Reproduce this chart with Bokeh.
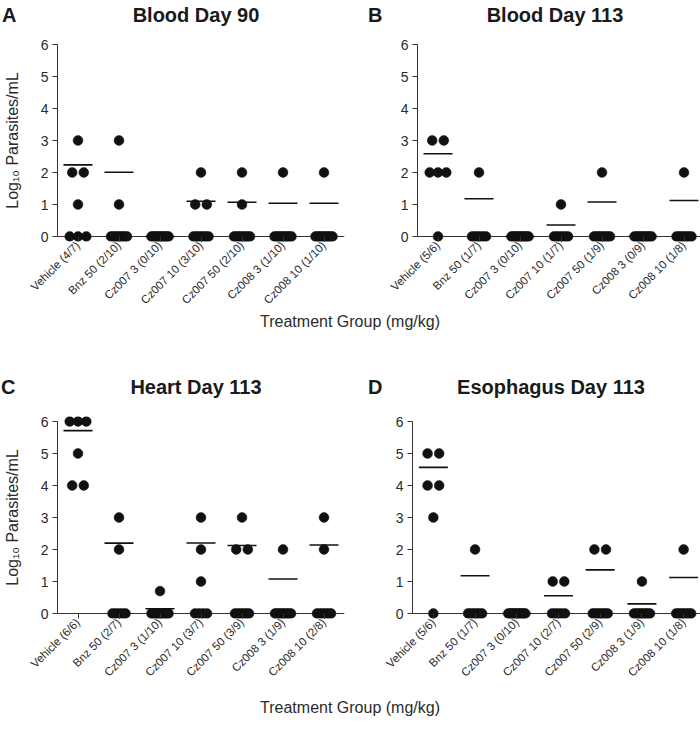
import math
from collections import Counter
import numpy as np
from bokeh.plotting import figure
from bokeh.models import FixedTicker, Div, Span
from bokeh.layouts import column, row
from bokeh.embed import file_html
from bokeh.resources import INLINE

# ---------------- data ----------------
groups = ["Vehicle", "Bnz 50", "Cz007 3", "Cz007 10", "Cz007 50", "Cz008 3", "Cz008 10"]
y_ticks = [0, 1, 2, 3, 4, 5, 6]

blood90_counts = ["(4/7)", "(2/10)", "(0/10)", "(3/10)", "(2/10)", "(1/10)", "(1/10)"]
blood90_vehicle = [3, 2, 2, 1, 0, 0, 0]
blood90_bnz50 = [3, 1, 0, 0, 0, 0, 0, 0, 0, 0]
blood90_cz007_3 = [0, 0, 0, 0, 0, 0, 0, 0, 0, 0]
blood90_cz007_10 = [2, 1, 1, 0, 0, 0, 0, 0, 0, 0]
blood90_cz007_50 = [2, 1, 0, 0, 0, 0, 0, 0, 0, 0]
blood90_cz008_3 = [2, 0, 0, 0, 0, 0, 0, 0, 0, 0]
blood90_cz008_10 = [2, 0, 0, 0, 0, 0, 0, 0, 0, 0]

blood113_counts = ["(5/6)", "(1/7)", "(0/10)", "(1/7)", "(1/9)", "(0/9)", "(1/8)"]
blood113_vehicle = [3, 3, 2, 2, 2, 0]
blood113_bnz50 = [2, 0, 0, 0, 0, 0, 0]
blood113_cz007_3 = [0, 0, 0, 0, 0, 0, 0, 0, 0, 0]
blood113_cz007_10 = [1, 0, 0, 0, 0, 0, 0]
blood113_cz007_50 = [2, 0, 0, 0, 0, 0, 0, 0, 0]
blood113_cz008_3 = [0, 0, 0, 0, 0, 0, 0, 0, 0]
blood113_cz008_10 = [2, 0, 0, 0, 0, 0, 0, 0]

heart113_counts = ["(6/6)", "(2/7)", "(1/10)", "(3/7)", "(3/9)", "(1/9)", "(2/8)"]
heart113_vehicle = [6, 6, 6, 5, 4, 4]
heart113_bnz50 = [3, 2, 0, 0, 0, 0, 0]
heart113_cz007_3 = [0.7, 0, 0, 0, 0, 0, 0, 0, 0, 0]
heart113_cz007_10 = [3, 2, 1, 0, 0, 0, 0]
heart113_cz007_50 = [3, 2, 2, 0, 0, 0, 0, 0, 0]
heart113_cz008_3 = [2, 0, 0, 0, 0, 0, 0, 0, 0]
heart113_cz008_10 = [3, 2, 0, 0, 0, 0, 0, 0]

eso113_counts = ["(5/6)", "(1/7)", "(0/10)", "(2/7)", "(2/9)", "(1/9)", "(1/8)"]
eso113_vehicle = [5, 5, 4, 4, 3, 0]
eso113_bnz50 = [2, 0, 0, 0, 0, 0, 0]
eso113_cz007_3 = [0, 0, 0, 0, 0, 0, 0, 0, 0, 0]
eso113_cz007_10 = [1, 1, 0, 0, 0, 0, 0]
eso113_cz007_50 = [2, 2, 0, 0, 0, 0, 0, 0, 0]
eso113_cz008_3 = [1, 0, 0, 0, 0, 0, 0, 0, 0]
eso113_cz008_10 = [2, 0, 0, 0, 0, 0, 0, 0]

blood90 = [blood90_vehicle, blood90_bnz50, blood90_cz007_3, blood90_cz007_10,
           blood90_cz007_50, blood90_cz008_3, blood90_cz008_10]
blood113 = [blood113_vehicle, blood113_bnz50, blood113_cz007_3, blood113_cz007_10,
            blood113_cz007_50, blood113_cz008_3, blood113_cz008_10]
heart113 = [heart113_vehicle, heart113_bnz50, heart113_cz007_3, heart113_cz007_10,
            heart113_cz007_50, heart113_cz008_3, heart113_cz008_10]
eso113 = [eso113_vehicle, eso113_bnz50, eso113_cz007_3, eso113_cz007_10,
          eso113_cz007_50, eso113_cz008_3, eso113_cz008_10]

# ---------------- styling ----------------
FONT = "Liberation Sans"
TXT = "#2b2b2b"
PXY = 32.0       # pixels per log unit
PAD = 5.0        # pixels of frame beyond 0 and 6
FRAME_H = int(6 * PXY + 2 * PAD)


def spread_px(n):
    if n <= 1:
        return 0.0
    if n == 2:
        return 11.6
    if n == 3:
        return 16.6
    return min(8.0 + n, 17.0)


def make_panel(counts, data, frame_w, border_left, border_right, border_top, border_bottom, ylabel):
    pxc = frame_w / 7.0
    p = figure(frame_width=frame_w, frame_height=FRAME_H,
               x_range=(0, 7), y_range=(-PAD / PXY, 6 + PAD / PXY),
               output_backend="svg", toolbar_location=None,
               min_border_left=border_left, min_border_right=border_right,
               min_border_top=border_top, min_border_bottom=border_bottom,
               background_fill_color=None, border_fill_color="white")
    p.outline_line_color = None
    p.grid.visible = False

    xs, ys = [], []
    mx0, mx1, my = [], [], []
    for i, vals in enumerate(data):
        cnt = Counter(vals)
        seen = {}
        for v in vals:
            n = cnt[v]
            k = seen.get(v, 0)
            seen[v] = k + 1
            s = spread_px(n)
            off = 0.0 if n == 1 else -s / 2 + s * k / (n - 1)
            xs.append(i + 0.5 + off / pxc)
            ys.append(v)
        m = math.log10(np.mean(10.0 ** np.array(vals, dtype=float)))
        mx0.append(i + 0.5 - 14.5 / pxc)
        mx1.append(i + 0.5 + 14.5 / pxc)
        my.append(m)

    # x-axis baseline at y = 0
    p.add_layout(Span(location=0, dimension="width", line_color="#333333",
                      line_width=1, level="underlay"))
    p.segment(x0=mx0, y0=my, x1=mx1, y1=my, line_color="#111111", line_width=1.6)
    p.scatter(x=xs, y=ys, size=9.8, marker="circle", fill_color="#111111",
              line_color="#111111", line_width=0.5)

    xa = p.xaxis[0]
    xa.ticker = FixedTicker(ticks=[i + 0.5 for i in range(7)])
    xa.major_label_overrides = {i + 0.5: f"{g} {c}" for i, (g, c) in enumerate(zip(groups, counts))}
    xa.major_label_orientation = math.pi / 4
    xa.major_label_text_font = FONT
    xa.major_label_text_font_size = "11.5px"
    xa.major_label_text_color = TXT
    xa.major_label_standoff = 2
    xa.major_tick_in = int(PAD)
    xa.major_tick_out = 0
    xa.minor_tick_line_color = None
    xa.axis_line_color = None
    xa.major_tick_line_color = "#333333"

    ya = p.yaxis[0]
    ya.bounds = (0, 6)
    ya.ticker = FixedTicker(ticks=y_ticks)
    ya.major_label_text_font = FONT
    ya.major_label_text_font_size = "14px"
    ya.major_label_text_color = TXT
    ya.major_label_standoff = 4
    ya.major_tick_in = 0
    ya.major_tick_out = 5
    ya.minor_tick_line_color = None
    ya.axis_line_color = "#333333"
    ya.major_tick_line_color = "#333333"
    if ylabel:
        ya.axis_label = "Log\u2081\u2080 Parasites/mL"
        ya.axis_label_text_font = FONT
        ya.axis_label_text_font_size = "16px"
        ya.axis_label_text_font_style = "normal"
        ya.axis_label_text_color = TXT
        ya.axis_label_standoff = 17
    return p


def text_div(text, left, top, size, center=False):
    common = (f"position:absolute;top:{top}px;font-family:'Liberation Sans';font-weight:bold;"
              f"font-size:{size}px;line-height:20px;color:#1a1a1a;white-space:nowrap;")
    if center:
        return (f"<div style=\"{common}left:{left - 150}px;width:300px;text-align:center;\">"
                f"{text}</div>")
    return f"<div style=\"{common}left:{left}px;\">{text}</div>"


def header(height, top, items):
    inner = "".join(text_div(t, x, top, s, c) for (t, x, s, c) in items)
    return Div(text=f"<div style=\"position:relative;width:700px;height:{height}px;\">{inner}</div>",
               width=700, height=height, margin=(0, 0, 0, 0))


def xlabel_div(height):
    return Div(text=("<div style=\"width:700px;text-align:center;font-family:'Liberation Sans';"
                     f"font-size:16px;line-height:{height}px;color:#2b2b2b;\">Treatment Group (mg/kg)</div>"),
               width=700, height=height, margin=(0, 0, 0, 0))


pA = make_panel(blood90_counts, blood90, 287, 52, 11, 5, 62, True)
pB = make_panel(blood113_counts, blood113, 287, 62, 1, 5, 62, False)
pC = make_panel(heart113_counts, heart113, 287, 52, 11, 5, 74, True)
pD = make_panel(eso113_counts, eso113, 292, 57, 1, 5, 74, False)

head1 = header(34, 5, [("A", 2, 20, False), ("Blood Day 90", 196, 20, True),
                       ("B", 368, 20, False), ("Blood Day 113", 555, 20, True)])
head2 = header(80, 46, [("C", 1, 20, False), ("Heart Day 113", 196, 20, True),
                        ("D", 368, 20, False), ("Esophagus Day 113", 551, 20, True)])

layout = column(head1, row(pA, pB, spacing=0), xlabel_div(18),
                head2, row(pC, pD, spacing=0), xlabel_div(32), spacing=0)

with open("out.html", "w") as f:
    f.write(file_html(layout, INLINE))
